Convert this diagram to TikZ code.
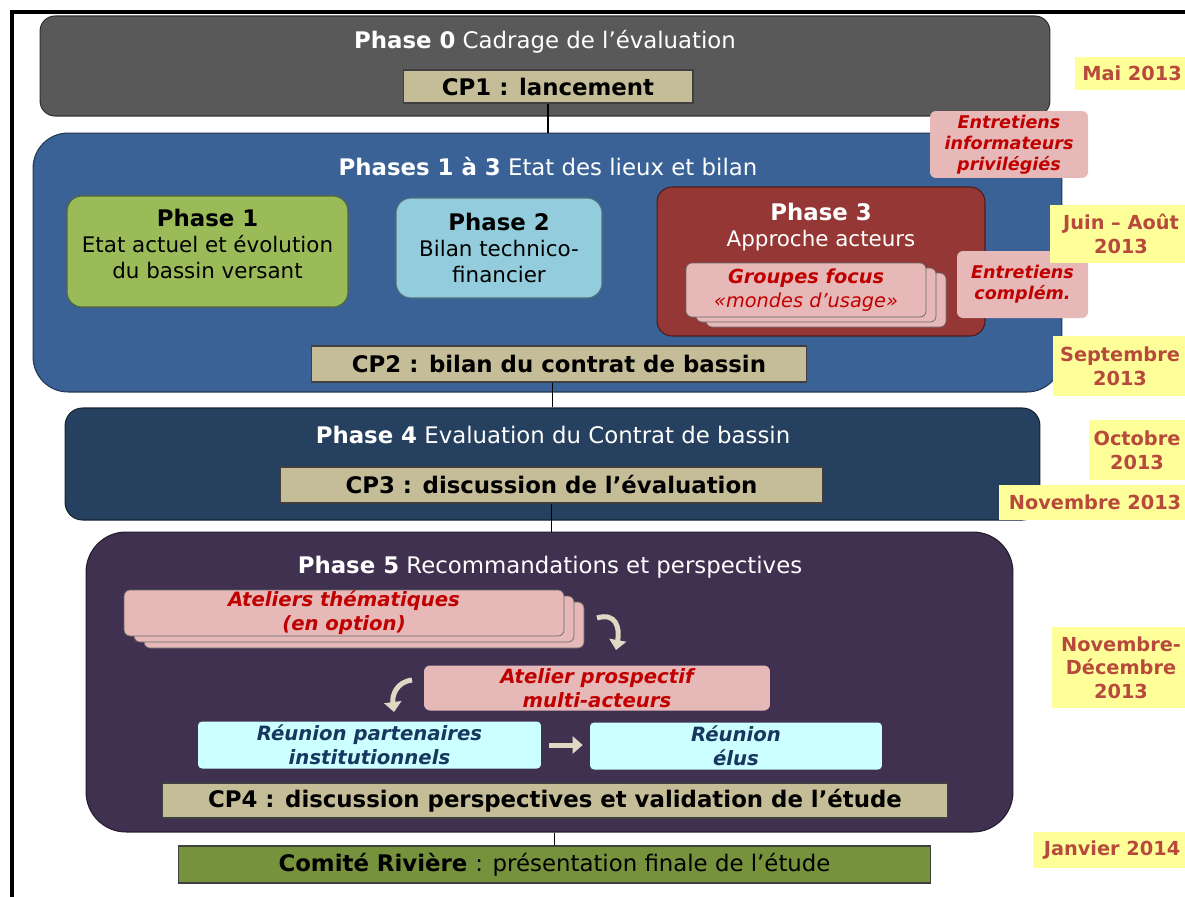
\documentclass[tikz,border=0pt]{standalone}
\usepackage{fontspec}
\setmainfont{DejaVu Sans}
\usetikzlibrary{arrows.meta}

\definecolor{gris}{HTML}{595959}
\definecolor{bleuph}{HTML}{3A6296}
\definecolor{marine}{HTML}{26405F}
\definecolor{violet}{HTML}{403151}
\definecolor{vertph}{HTML}{9BBB59}
\definecolor{ciel}{HTML}{93CDDD}
\definecolor{brique}{HTML}{953735}
\definecolor{rose}{HTML}{E6B9B8}
\definecolor{cyan}{HTML}{CCFFFF}
\definecolor{sable}{HTML}{C4BD97}
\definecolor{olive}{HTML}{76923C}
\definecolor{jaune}{HTML}{FFFF99}
\definecolor{rougetxt}{HTML}{C00000}
\definecolor{bleutxt}{HTML}{17375E}
\definecolor{datetxt}{HTML}{B8493D}
\definecolor{beige}{HTML}{DDD9C3}

\begin{document}
\begin{tikzpicture}[x=0.02cm, y=-0.02cm,
	bloc/.style={fill=#1, draw=#1!55!black, line width=0.6pt, rounded corners=0.3cm, inner sep=0pt},
	titre/.style={text=white, font=\fontsize{13}{15}\selectfont},
	texte/.style={align=center, font=\fontsize{12.2}{14.8}\selectfont},
	cp/.style={fill=sable, draw=black!75, line width=0.6pt, inner sep=0pt, font=\bfseries\fontsize{13}{15}\selectfont},
	rosebox/.style={fill=rose, rounded corners=0.12cm, inner sep=0pt, text=rougetxt, align=center, font=\bfseries\itshape\fontsize{10}{12}\selectfont},
	reunion/.style={fill=cyan, rounded corners=0.08cm, inner sep=0pt, text=bleutxt, align=center, font=\bfseries\itshape\fontsize{11.2}{13.5}\selectfont},
	datebox/.style={fill=jaune, inner sep=0pt, text=datetxt, align=center, font=\bfseries\fontsize{11}{13.5}\selectfont},
	lien/.style={draw=black, line width=1pt},
	fleche/.style={draw=beige, line width=0.1cm, -{Triangle[width=0.34cm,length=0.2cm]}}
	]
	\clip (0,0) rectangle (1185,896);
	
	% cadre
	\draw[line width=2pt] (12,900) -- (12,12) -- (1190,12);
	
	% phase 0
	\node[bloc=gris, minimum width=20.2cm, minimum height=2cm] (ph0) at (545,66) {};
	\node[titre] (t0) at (545,42) {\textbf{Phase 0} Cadrage de l’évaluation};
	\node[cp, minimum width=5.8cm, minimum height=0.66cm] (cp1) at (548,86.5) {CP1 : lancement};
	
	% phases 1 a 3
	\node[bloc=bleuph, rounded corners=0.7cm, minimum width=20.58cm, minimum height=5.18cm] (ph13) at (547.5,262.5) {};
	\node[titre] (t13) at (548,167) {\textbf{Phases 1 à 3} Etat des lieux et bilan};
	\node[bloc=vertph, minimum width=5.62cm, minimum height=2.22cm] (ph1) at (207.5,251.5) {};
	\node[texte] (t1) at (207.5,244) {\textbf{\fontsize{13}{14.8}\selectfont Phase 1}\\Etat actuel et évolution\\du bassin versant};
	\node[bloc=ciel, minimum width=4.12cm, minimum height=2cm, texte] (ph2) at (499,248) {\textbf{\fontsize{13}{14.8}\selectfont Phase 2}\\Bilan technico-\\financier};
	\node[bloc=brique, draw=brique!50!black, minimum width=6.56cm, minimum height=2.98cm] (ph3) at (821,261.5) {};
	\node[texte, text=white] (t3) at (821,227) {\textbf{\fontsize{13}{14.8}\selectfont Phase 3}\\Approche acteurs};
	\foreach \k in {2,1}
	{
		\filldraw[fill=rose, draw=black!60, rounded corners=0.12cm] (686+10*\k,263+5*\k) rectangle (926+10*\k,317+5*\k);
	}
	\node[rosebox, draw=black!60, minimum width=4.8cm, minimum height=1.08cm, font=\fontsize{11}{14}\selectfont] (grp) at (806,290) {\textbf{\itshape Groupes focus}\\\itshape «mondes d’usage»};
	\node[rosebox, minimum width=3.16cm, minimum height=1.34cm] (ent1) at (1009,144.5) {Entretiens\\informateurs\\privilégiés};
	\node[rosebox, minimum width=2.62cm, minimum height=1.34cm] (ent2) at (1022.5,284.5) {Entretiens\\complém.};
	\node[cp, minimum width=9.92cm, minimum height=0.72cm] (cp2) at (559,364) {CP2 : bilan du contrat de bassin};
	
	% phase 4
	\node[bloc=marine, rounded corners=0.35cm, minimum width=19.5cm, minimum height=2.24cm] (ph4) at (552.5,464) {};
	\node[titre] (t4) at (553,435) {\textbf{Phase 4} Evaluation du Contrat de bassin};
	\node[cp, minimum width=10.86cm, minimum height=0.72cm] (cp3) at (551.5,485) {CP3 : discussion de l’évaluation};
	
	% phase 5
	\node[bloc=violet, rounded corners=0.8cm, minimum width=18.54cm, minimum height=6cm] (ph5) at (549.5,682) {};
	\node[titre] (t5) at (550,567) {\textbf{Phase 5} Recommandations et perspectives};
	\foreach \k in {2,1}
	{
		\filldraw[fill=rose, draw=black!60, rounded corners=0.12cm] (124+10*\k,590+6*\k) rectangle (564+10*\k,636+6*\k);
	}
	\node[rosebox, draw=black!60, minimum width=8.8cm, minimum height=0.92cm, font=\bfseries\itshape\fontsize{11.2}{13.8}\selectfont] (atel) at (344,613) {Ateliers thématiques\\(en option)};
	\node[rosebox, minimum width=6.92cm, minimum height=0.9cm, font=\bfseries\itshape\fontsize{11.2}{13.8}\selectfont] (prosp) at (597,688) {Atelier prospectif\\multi-acteurs};
	\node[reunion, minimum width=6.86cm, minimum height=0.94cm] (rpart) at (369.5,745) {Réunion partenaires\\institutionnels};
	\node[reunion, minimum width=5.84cm, minimum height=0.94cm] (relus) at (736,746) {Réunion\\élus};
	\node[cp, minimum width=15.72cm, minimum height=0.7cm] (cp4) at (555,800.5) {CP4 : discussion perspectives et validation de l’étude};
	
	% comite
	\node[cp, fill=olive, minimum width=15.06cm, minimum height=0.74cm] (comite) at (554.5,864.5) {Comité Rivière \mdseries: présentation finale de l’étude};
	
	% fleches
	\coordinate (f1a) at (597,618);
	\coordinate (f1b) at (616,650);
	\coordinate (f2a) at (412,680);
	\coordinate (f2b) at (394,712);
	\draw[fleche] (f1a) .. controls (616,612) and (620,628) .. (f1b);
	\draw[fleche] (f2a) .. controls (396,682) and (392,696) .. (f2b);
	\draw[fleche, shorten <=0.16cm, shorten >=0.14cm] (rpart) -- (rpart -| relus.west);
	
	% liens
	\draw[lien] (cp1.south) -- (cp1.south |- ph13.north);
	\draw[lien] (cp2.south -| ph4.north) -- (ph4.north);
	\draw[lien] (cp3.south) -- (cp3.south |- ph5.north);
	\draw[lien] (ph5.south -| comite.north) -- (comite.north);
	
	% dates
	\foreach \nom/\cx/\cy/\w/\h/\txt in {
		dmai/1132/73.5/2.28/0.66/{Mai 2013},
		djuin/1121/234/2.84/1.16/{Juin – Août\\2013},
		dsept/1120/366/2.68/1.2/{Septembre\\2013},
		doct/1137/450/1.92/1.2/{Octobre\\2013},
		dnov/1095/502.5/3.84/0.7/{Novembre 2013},
		ddec/1121/667.5/2.76/1.62/{Novembre-\\Décembre\\2013},
		djan/1112/850/3.16/0.72/{Janvier 2014}}
	{
		\node[datebox, minimum width=\w cm, minimum height=\h cm] (\nom) at (\cx,\cy) {\txt};
	}
\end{tikzpicture}
\end{document}
